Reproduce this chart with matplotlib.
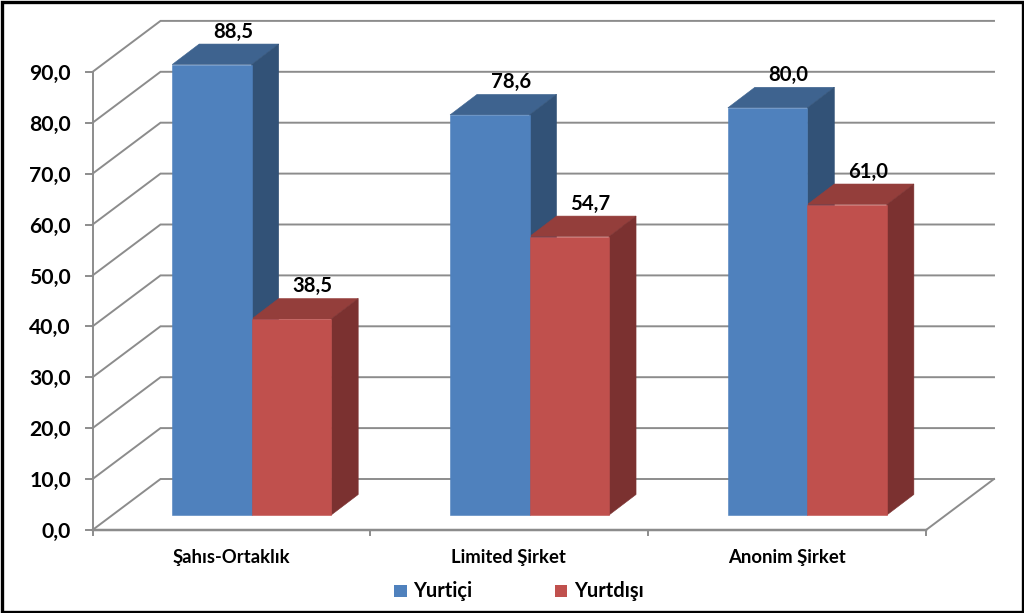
import matplotlib
matplotlib.use("Agg")
import matplotlib.pyplot as plt
from matplotlib.patches import Polygon, Rectangle

plt.rcParams['font.family'] = ['Lato', 'DejaVu Sans']

categories = ["Şahıs-Ortaklık", "Limited Şirket", "Anonim Şirket"]
yurtici = [88.5, 78.6, 80.0]
yurtdisi = [38.5, 54.7, 61.0]
ticks = [0, 10, 20, 30, 40, 50, 60, 70, 80, 90]
series_names = ["Yurtiçi", "Yurtdışı"]

blue = ("#4F81BD", "#3E638F", "#325277")
red = ("#C0504D", "#943E3B", "#7B3130")
grid = "#8C8C8C"

# pixel layout of the fake 3d box
x0, x1 = 92.5, 926
y0 = 530
dx, dy = 68, 51
px_per_unit = 5.09
group_w = (x1 - x0) / 3
bar_w = 79.5
bar_base = 515
bar_dx, bar_dy = 27, 20.5


def val_y(v, base=y0):
    return base - v * px_per_unit


def comma(v):
    return f"{v:.1f}".replace(".", ",")


def bar(ax, left, v, cols):
    top = val_y(v, bar_base)
    right = left + bar_w
    ax.add_patch(Polygon([(left, top), (right, top), (right + bar_dx, top - bar_dy), (left + bar_dx, top - bar_dy)],
                         fc=cols[1], ec=cols[1], lw=0.4, zorder=3))
    ax.add_patch(Polygon([(right, bar_base), (right + bar_dx, bar_base - bar_dy), (right + bar_dx, top - bar_dy), (right, top)],
                         fc=cols[2], ec=cols[2], lw=0.4, zorder=3))
    ax.add_patch(Polygon([(left, bar_base), (right, bar_base), (right, top), (left, top)],
                         fc=cols[0], ec=cols[0], lw=0.4, zorder=3.5))
    ax.text(left + bar_w / 2 + bar_dx - 6, top - bar_dy - 2.5, comma(v), fontsize=14.6, fontweight="bold",
            ha="center", va="bottom", color="black", zorder=4)


fig = plt.figure(figsize=(10.24, 6.13), dpi=100)
ax = fig.add_axes([0, 0, 1, 1])
ax.set_xlim(0, 1024)
ax.set_ylim(613, 0)
ax.axis("off")

lw = 1.4
# grid on back and left walls, ticks and labels
for t in ticks:
    y = val_y(t)
    ax.plot([x0, x0 + dx, x1 + dx], [y, y - dy, y - dy], color=grid, lw=lw, zorder=1, solid_joinstyle="miter")
    ax.plot([x0 - 7, x0], [y, y], color=grid, lw=lw, zorder=1)
    ax.text(71, y + 2, comma(t), fontsize=15.2, fontweight="bold", ha="right", va="center", color="black")

# axis lines
ax.plot([x0, x0], [val_y(ticks[-1]), y0], color=grid, lw=lw, zorder=1)
ax.plot([x0, x1], [y0, y0], color=grid, lw=lw + 0.4, zorder=1)
ax.plot([x1, x1 + dx], [y0, y0 - dy], color=grid, lw=lw, zorder=1)

for i, name in enumerate(categories):
    gx = x0 + i * group_w
    ax.plot([gx, gx], [y0, y0 + 5], color=grid, lw=lw, zorder=1)
    left = gx + 79.7
    bar(ax, left, yurtici[i], blue)
    bar(ax, left + bar_w, yurtdisi[i], red)
    ax.text(gx + group_w / 2 - 0.5, 557, name, fontsize=13.3, fontweight="bold", ha="center", va="center", color="black")
ax.plot([x1, x1], [y0, y0 + 5], color=grid, lw=lw, zorder=1)

# legend
ax.add_patch(Rectangle((394, 585), 13, 12, fc=blue[0], ec="none"))
ax.text(413, 591, series_names[0], fontsize=14.4, fontweight="bold", ha="left", va="center")
ax.add_patch(Rectangle((555, 585), 12, 12, fc=red[0], ec="none"))
ax.text(574, 591, series_names[1], fontsize=14.4, fontweight="bold", ha="left", va="center")

# black frame
ax.add_patch(Rectangle((1.5, 1.5), 1021, 610, fc="none", ec="black", lw=2.4, zorder=5))

fig.savefig("out.png", dpi=100)
